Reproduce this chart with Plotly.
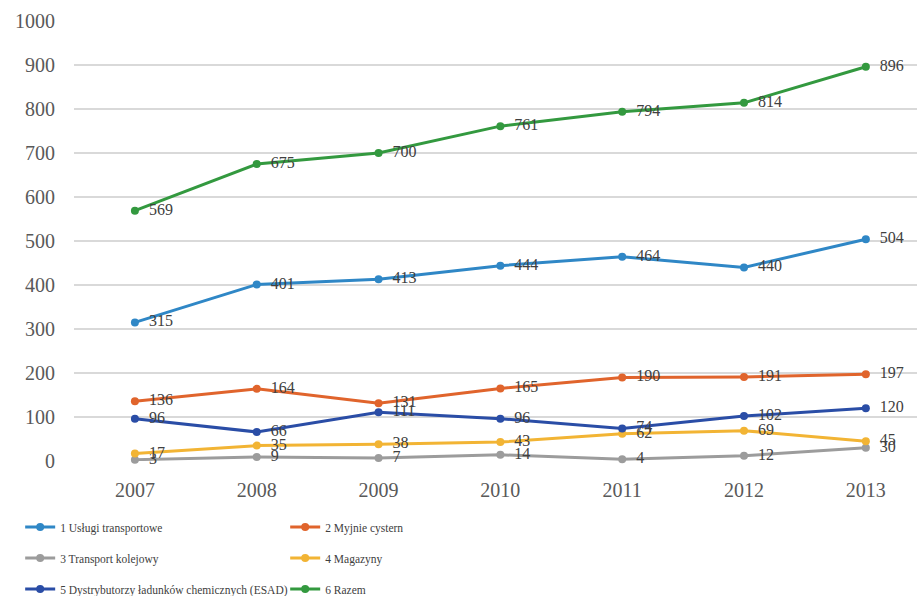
import plotly.graph_objects as go

years = [2007, 2008, 2009, 2010, 2011, 2012, 2013]
names = [
    "1 Usługi transportowe",
    "2 Myjnie cystern",
    "3 Transport kolejowy",
    "4 Magazyny",
    "5 Dystrybutorzy ładunków chemicznych (ESAD)",
    "6 Razem",
]
uslugi = [315, 401, 413, 444, 464, 440, 504]
myjnie = [136, 164, 131, 165, 190, 191, 197]
kolej = [3, 9, 7, 14, 4, 12, 30]
magazyny = [17, 35, 38, 43, 62, 69, 45]
esad = [96, 66, 111, 96, 74, 102, 120]
razem = [569, 675, 700, 761, 794, 814, 896]
y_ticks = [0, 100, 200, 300, 400, 500, 600, 700, 800, 900, 1000]

series = [uslugi, myjnie, kolej, magazyny, esad, razem]
colors = ["#2F87C6", "#E0642C", "#9C9C9C", "#F2B434", "#2A4DA6", "#33993F"]
legends = ["legend", "legend2", "legend", "legend2", "legend", "legend2"]

SERIF = "Liberation Serif"

fig = go.Figure()
for nm, vals, col, lg in zip(names, series, colors, legends):
    fig.add_trace(go.Scatter(
        x=years, y=vals, name=nm, mode="lines+markers+text",
        line=dict(color=col, width=3),
        marker=dict(color=col, size=8),
        text=["\u00a0\u00a0" + str(v) for v in vals],
        textposition="middle right",
        textfont=dict(family=SERIF, size=16, color="#404040"),
        legend=lg, legendgroup=nm,
        cliponaxis=False,
    ))

leg_font = dict(size=11.5, color="#404040", family=SERIF)
fig.update_layout(
    width=917, height=596,
    margin=dict(l=74, r=0, t=21, b=135, autoexpand=False),
    plot_bgcolor="white", paper_bgcolor="white",
    font=dict(family=SERIF, color="#595959"),
    showlegend=True,
    legend=dict(x=0.022, xref="container", y=0.14, yref="container",
                yanchor="top", xanchor="left", orientation="v",
                font=leg_font, itemwidth=30,
                tracegroupgap=12, bgcolor="rgba(0,0,0,0)"),
    legend2=dict(x=0.311, xref="container", y=0.14, yref="container",
                 yanchor="top", xanchor="left", orientation="v",
                 font=leg_font, itemwidth=30,
                 tracegroupgap=12, bgcolor="rgba(0,0,0,0)"),
)
fig.update_xaxes(
    range=[2006.5, 2013.42], tickvals=years, ticktext=[str(y) for y in years],
    showgrid=False, zeroline=False, showline=False,
    tickfont=dict(size=20, color="#595959", family=SERIF), ticks="",
    ticklabelstandoff=15,
)
fig.update_yaxes(
    range=[0, 1000], tickvals=y_ticks, ticktext=[str(v) for v in y_ticks],
    showgrid=True, gridcolor="#D9D9D9", gridwidth=1.5, zeroline=False,
    showline=False, tickfont=dict(size=20, color="#595959", family=SERIF),
    ticks="", ticklabelstandoff=18,
)
fig.write_html("out.html")
